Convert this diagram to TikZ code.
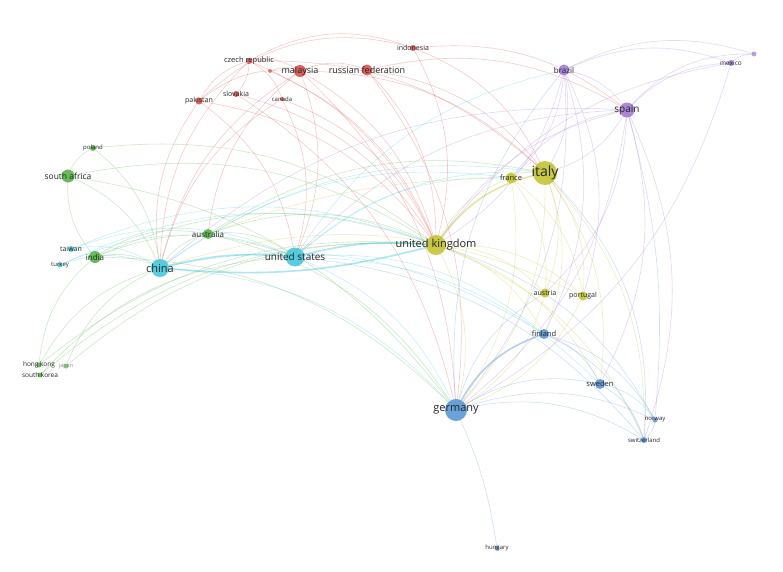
\documentclass[tikz,border=0pt]{standalone}
\usepackage{fontspec}
\setmainfont{Open Sans}
\definecolor{cred}{RGB}{214,82,78}
\definecolor{cgreen}{RGB}{88,180,72}
\definecolor{cblue}{RGB}{92,152,214}
\definecolor{cyel}{RGB}{196,196,52}
\definecolor{cpur}{RGB}{162,124,212}
\definecolor{ccyan}{RGB}{72,200,222}
\tikzset{
  vn/.style={circle,inner sep=0pt,draw=none,fill opacity=0.9},
  lbl/.style={text=black!85,inner sep=0pt},
  ed/.style={line width=0.6pt,draw opacity=0.3,bend left=22},
  er/.style={ed,draw=cred},
  eg/.style={ed,draw=cgreen},
  eb/.style={ed,draw=cblue},
  ey/.style={ed,draw=cyel},
  ep/.style={ed,draw=cpur},
  ec/.style={ed,draw=ccyan},
  thick edge/.style={line width=1.6pt,draw opacity=0.45}
}
\newcommand{\vnode}[7]{\node[vn,fill=#5,minimum size=#4pt,label={[lbl,font=\fontsize{#6}{#6}\selectfont]center:#7}] (#1) at (#2,#3) {};}
\begin{document}
\begin{tikzpicture}[x=1pt,y=-1pt]
\useasboundingbox (0,0) rectangle (783,571);
\path
 (249,61) coordinate (czp) (270,71) coordinate (sgp) (300,71) coordinate (myp)
 (367,70) coordinate (rup) (413,48) coordinate (idp) (236,94) coordinate (skp)
 (282,99) coordinate (cap) (199,101) coordinate (pkp) (564,70) coordinate (brp)
 (731,63) coordinate (mxp) (754,54) coordinate (clp) (627,110) coordinate (esp)
 (93,148) coordinate (plp) (68,176) coordinate (zap) (511,178) coordinate (frp)
 (545,173) coordinate (itp) (208,234) coordinate (aup) (436,245) coordinate (ukp)
 (295,257) coordinate (usp) (71,249) coordinate (twp) (95,257) coordinate (inp)
 (60,265) coordinate (trp) (160,268) coordinate (cnp) (545,293) coordinate (atp)
 (583,296) coordinate (ptp) (544,334) coordinate (fip) (39,365) coordinate (hkp)
 (66,366) coordinate (jpp) (40,375) coordinate (krp) (600,384) coordinate (sep)
 (456,410) coordinate (dep) (655,420) coordinate (nop) (644,440) coordinate (chp)
 (497,548) coordinate (hup);
% ---------- edges
% red
\draw[er] (czp) to (myp); \draw[er] (pkp) to (czp); \draw[er] (czp) to (skp);
\draw[er] (czp) to (cap); \draw[er] (czp) to[bend left=25] (idp); \draw[er] (czp) to (ukp);
\draw[er] (czp) to (itp); \draw[er] (cnp) to (czp);
\draw[er] (sgp) to (myp); \draw[er] (sgp) to (ukp);
\draw[er] (myp) to (rup); \draw[er] (pkp) to (myp); \draw[er] (cnp) to (myp);
\draw[er] (myp) to (ukp); \draw[er] (myp) to (dep); \draw[er] (aup) to (myp);
\draw[er] (myp) to (usp); \draw[er] (myp) to (itp);
\draw[er] (rup) to (itp); \draw[er] (rup) to (dep); \draw[er] (rup) to (ukp); \draw[er] (rup) to (esp);
\draw[er] (pkp) to[bend left=30] (idp); \draw[er] (idp) to (itp); \draw[er] (idp) to (ukp); \draw[er] (idp) to (esp);
\draw[er] (cnp) to (pkp); \draw[er] (pkp) to (usp); \draw[er] (pkp) to (ukp);
\draw[er] (skp) to (dep); \draw[er] (skp) to (ukp);
\draw[er] (cap) to (usp); \draw[er] (cap) to (ukp); \draw[er] (cnp) to (cap);
% purple
\draw[ep] (brp) to (esp); \draw[ep] (brp) to (mxp); \draw[ep] (brp) to (itp);
\draw[ep] (brp) to (dep); \draw[ep] (brp) to (ukp); \draw[ep] (brp) to (ptp);
\draw[ep] (brp) to (frp); \draw[ep] (brp) to (fip); \draw[ep] (brp) to (clp);
\draw[ep] (esp) to (mxp); \draw[ep] (esp) to (itp); \draw[ep] (ukp) to (esp);
\draw[ep] (esp) to (dep); \draw[ep] (esp) to (chp); \draw[ep] (cnp) to (esp);
\draw[ep] (usp) to (esp); \draw[ep] (esp) to (sep); \draw[ep] (esp) to (atp);
\draw[ep] (esp) to[bend left=25] (clp); \draw[ep] (mxp) to (clp); \draw[ep] (ukp) to (mxp);
\draw[ep] (mxp) to (dep); \draw[ep] (frp) to (esp);
% green
\draw[eg] (zap) to (plp); \draw[eg] (plp) to (ukp); \draw[eg] (plp) to (cnp);
\draw[eg] (inp) to (zap); \draw[eg] (zap) to (cnp); \draw[eg] (zap) to (ukp); \draw[eg] (zap) to (dep);
\draw[eg] (cnp) to (aup); \draw[eg] (aup) to (ukp); \draw[eg] (aup) to (usp);
\draw[eg] (aup) to (dep); \draw[eg] (inp) to (aup); \draw[eg] (aup) to (itp);
\draw[eg] (inp) to (cnp); \draw[eg] (inp) to (ukp); \draw[eg] (inp) to (usp);
\draw[eg] (inp) to (dep); \draw[eg] (hkp) to (inp);
\draw[eg] (hkp) to (cnp); \draw[eg] (hkp) to (ukp); \draw[eg] (jpp) to (ukp);
\draw[eg] (jpp) to (cnp); \draw[eg] (krp) to (ukp); \draw[eg] (krp) to (usp);
% cyan
\draw[ec,thick edge] (cnp) to[bend left=10] (usp); \draw[ec,thick edge] (cnp) to[bend right=10] (ukp);
\draw[ec] (cnp) to (dep); \draw[ec] (twp) to (cnp); \draw[ec] (trp) to (cnp);
\draw[ec] (cnp) to (itp); \draw[ec] (cnp) to (frp); \draw[ec] (cnp) to (fip);
\draw[ec,thick edge] (usp) to[bend left=10] (ukp); \draw[ec] (usp) to (dep); \draw[ec] (usp) to (itp);
\draw[ec] (usp) to (frp); \draw[ec] (usp) to (fip); \draw[ec] (usp) to (sep);
\draw[ec] (twp) to (ukp); \draw[ec] (twp) to (usp); \draw[ec] (trp) to (usp); \draw[ec] (trp) to (ukp);
\draw[ec] (usp) to (brp);
% yellow
\draw[ey,thick edge,draw=cyel] (ukp) to (itp); \draw[ey] (ukp) to (frp); \draw[ey] (ukp) to (dep);
\draw[ey] (ukp) to (atp); \draw[ey] (ukp) to (ptp); \draw[ey] (ukp) to (fip);
\draw[ey] (ukp) to (sep); \draw[ey] (ukp) to (chp);
\draw[ey] (frp) to (itp); \draw[ey] (itp) to (dep); \draw[ey] (itp) to (atp);
\draw[ey] (itp) to (ptp); \draw[ey] (itp) to (fip); \draw[ey] (itp) to (sep);
\draw[ey] (itp) to (chp); \draw[ey] (frp) to (dep); \draw[ey] (frp) to (atp);
\draw[ey] (atp) to (dep); \draw[ey] (ptp) to (dep); \draw[ey] (frp) to (ptp);
\draw[ey] (aup) to[bend left=10] (frp); \draw[ey] (cnp) to (ptp);
% blue
\draw[eb,thick edge,draw=cblue] (dep) to (fip); \draw[eb] (dep) to (sep); \draw[eb] (dep) to (nop);
\draw[eb] (dep) to (chp); \draw[eb] (dep) to[bend left=8] (hup); \draw[eb] (dep) to (atp);
\draw[eb] (fip) to (sep); \draw[eb] (fip) to (nop); \draw[eb] (fip) to (chp);
\draw[eb] (sep) to (nop); \draw[eb] (sep) to (chp); \draw[eb] (nop) to (chp);
\draw[eb] (esp) to[bend left=10] (nop); \draw[eb] (itp) to[bend left=25] (chp);
\draw[eb] (ukp) to (nop); \draw[eb] (usp) to (chp); \draw[eb] (dep) to (brp);
% ---------- nodes
\vnode{cz}{249}{61}{6}{cred}{7.5}{czech republic}
\node[vn,fill=cred,minimum size=4pt,fill opacity=0.7] (sg) at (270,71) {};
\vnode{my}{300}{71}{12}{cred}{9}{malaysia}
\vnode{ru}{367}{70}{11}{cred}{9}{russian federation}
\vnode{id}{413}{48}{6}{cred}{7}{indonesia}
\vnode{sk}{236}{94}{6}{cred}{7}{slovakia}
\vnode{ca}{282}{99}{4}{cred}{6}{canada}
\vnode{pk}{199}{101}{7}{cred}{7}{pakistan}
\vnode{br}{564}{70}{11}{cpur}{8}{brazil}
\vnode{mx}{731}{63}{6}{cpur}{6.5}{mexico}
\node[vn,fill=cpur,minimum size=5pt,fill opacity=0.7] (cl) at (754,54) {};
\vnode{es}{627}{110}{15}{cpur}{10}{spain}
\vnode{pl}{93}{148}{6}{cgreen}{6}{poland}
\vnode{za}{68}{176}{13}{cgreen}{8.5}{south africa}
\vnode{fr}{511}{178}{11}{cyel}{7.5}{france}
\vnode{it}{545}{173}{24}{cyel}{14}{italy}
\vnode{au}{208}{234}{10}{cgreen}{8}{australia}
\vnode{uk}{436}{245}{20}{cyel}{11}{united kingdom}
\vnode{us}{295}{257}{19}{ccyan}{10}{united states}
\vnode{tw}{71}{249}{6}{ccyan}{7}{taiwan}
\vnode{in}{95}{257}{12}{cgreen}{8}{india}
\vnode{tr}{60}{265}{5}{ccyan}{6}{turkey}
\vnode{cn}{160}{268}{18}{ccyan}{11}{china}
\vnode{at}{545}{293}{9}{cyel}{7}{austria}
\vnode{pt}{583}{296}{9}{cyel}{7}{portugal}
\vnode{fi}{544}{334}{10}{cblue}{7.5}{finland}
\vnode{hk}{39}{365}{5}{cgreen}{6.5}{hong kong}
\node[vn,fill=cgreen,minimum size=5pt,fill opacity=0.7,label={[lbl,text=black!45,font=\fontsize{5.5}{5.5}\selectfont]center:japan}] (jp) at (66,366) {};
\vnode{kr}{40}{375}{5}{cgreen}{6.5}{south korea}
\vnode{se}{600}{384}{10}{cblue}{7.5}{sweden}
\vnode{de}{456}{410}{22}{cblue}{11}{germany}
\vnode{no}{655}{420}{5}{cblue}{6}{norway}
\vnode{ch}{644}{440}{6}{cblue}{6}{switzerland}
\vnode{hu}{497}{548}{5}{cblue}{6}{hungary}
\end{tikzpicture}
\end{document}
